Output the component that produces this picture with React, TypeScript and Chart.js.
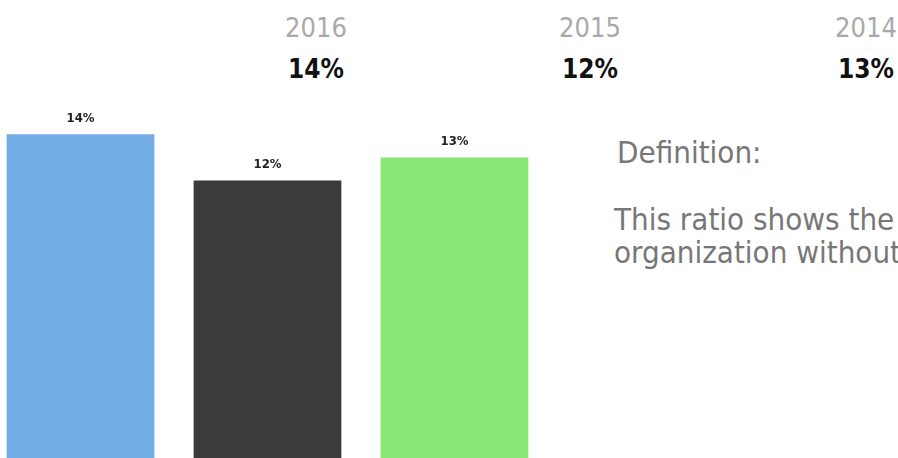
import React, { useEffect, useRef } from "react";
import { Chart, registerables } from "chart.js";

Chart.register(...registerables);

const years = ["2016", "2015", "2014"];
const ratios = [14, 12, 13];
const barColors = ["#74ade6", "#3b3b3e", "#88e777"];
const definitionTitle = "Definition:";
const definitionLines = ["This ratio shows the", "organization without"];

const FONT = '"DejaVu Sans Condensed", "DejaVu Sans", sans-serif';

// Writes each bar's percentage just above its top edge
const valueLabels = {
  id: "valueLabels",
  afterDatasetsDraw(chart: any) {
    const { ctx } = chart;
    const meta = chart.getDatasetMeta(0);
    ctx.save();
    ctx.font = `bold 13px ${FONT}`;
    ctx.fillStyle = "#222";
    ctx.textAlign = "center";
    ctx.textBaseline = "middle";
    meta.data.forEach((bar: any, i: number) => {
      ctx.fillText(`${ratios[i]}%`, bar.x, bar.y - 16);
    });
    ctx.restore();
  },
};

export default function App() {
  const canvasRef = useRef<HTMLCanvasElement>(null);

  useEffect(() => {
    document.body.style.margin = "0";
    const chart = new Chart(canvasRef.current!, {
      type: "bar",
      data: {
        labels: years,
        datasets: [
          {
            data: ratios,
            backgroundColor: barColors,
            borderWidth: 0,
            categoryPercentage: 1,
            barPercentage: 0.79,
          },
        ],
      },
      options: {
        animation: false,
        responsive: false,
        maintainAspectRatio: false,
        layout: { padding: 0 },
        plugins: {
          legend: { display: false },
          tooltip: { enabled: false },
          title: { display: false },
        },
        scales: {
          x: { display: false },
          y: { display: false, min: 0, max: 16 },
        },
      },
      plugins: [valueLabels],
    });
    return () => chart.destroy();
  }, []);

  const headerCenters = [316, 590, 866];

  return (
    <div
      style={{
        position: "fixed",
        left: 0,
        top: 0,
        width: 898,
        height: 458,
        overflow: "hidden",
        background: "#fff",
        fontFamily: FONT,
      }}
    >
      {years.map((y, i) => (
        <React.Fragment key={y}>
          <div
            style={{
              position: "absolute",
              left: headerCenters[i] - 60,
              width: 120,
              top: 13,
              height: 30,
              lineHeight: "30px",
              fontSize: 27,
              color: "#a9a9a9",
              textAlign: "center",
            }}
          >
            {y}
          </div>
          <div
            style={{
              position: "absolute",
              left: headerCenters[i] - 60,
              width: 120,
              top: 54,
              height: 30,
              lineHeight: "30px",
              fontSize: 26,
              fontWeight: "bold",
              color: "#111",
              textAlign: "center",
            }}
          >
            {ratios[i]}%
          </div>
        </React.Fragment>
      ))}
      <div
        style={{
          position: "absolute",
          left: 617,
          top: 134,
          lineHeight: "36px",
          fontSize: 31,
          color: "#777",
          whiteSpace: "nowrap",
        }}
      >
        {definitionTitle}
      </div>
      <div
        style={{
          position: "absolute",
          left: 614,
          top: 203,
          lineHeight: "33px",
          fontSize: 31,
          color: "#777",
          whiteSpace: "nowrap",
        }}
      >
        {definitionLines.map((l) => (
          <div key={l}>{l}</div>
        ))}
      </div>
      <div style={{ position: "absolute", left: -13, top: 88, width: 561, height: 370 }}>
        <canvas ref={canvasRef} width={561} height={370} style={{ display: "block" }} />
      </div>
    </div>
  );
}
